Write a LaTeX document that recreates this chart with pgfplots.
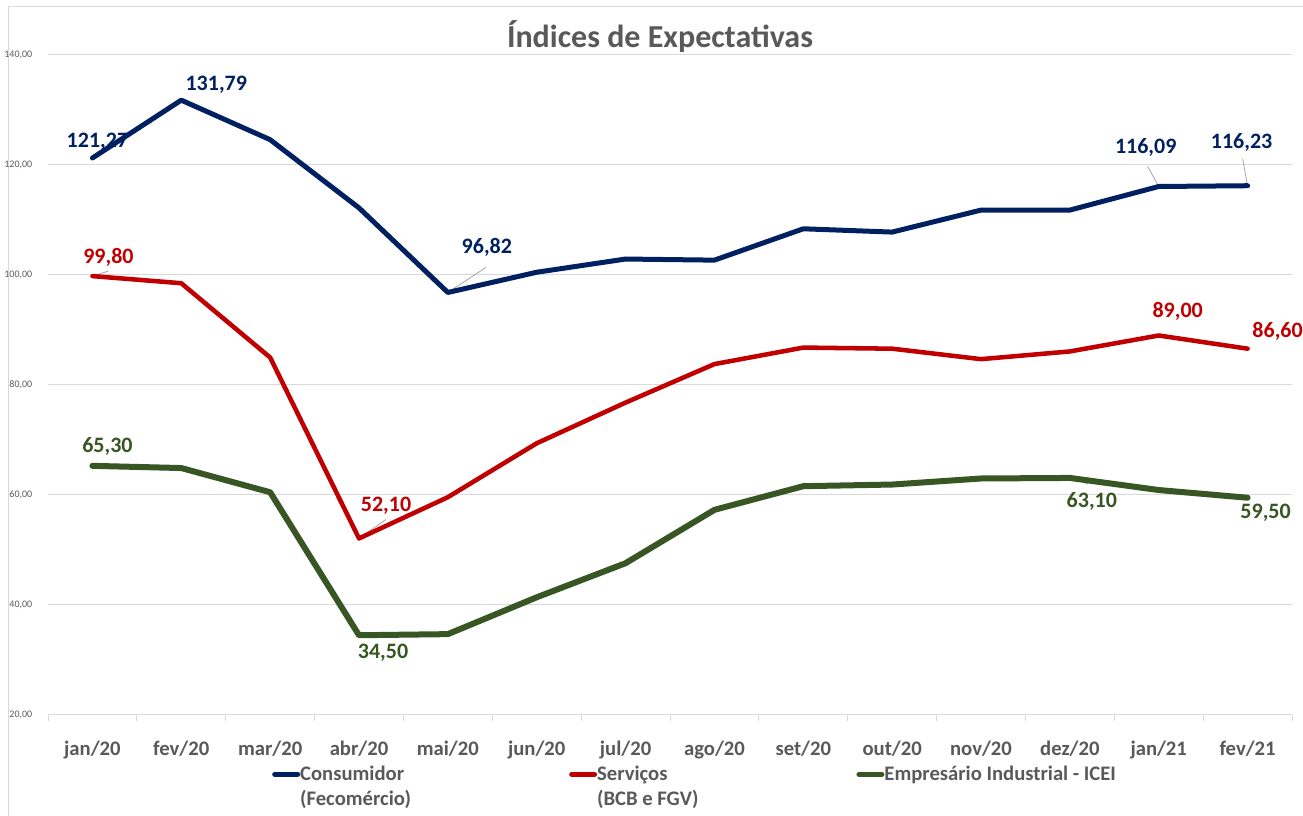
\documentclass[border=0pt]{standalone}
\usepackage{fontspec}
\setmainfont{Carlito}
\usepackage{pgfplots}
\pgfplotsset{compat=1.18}
\definecolor{cblue}{HTML}{002060}
\definecolor{cred}{HTML}{C00000}
\definecolor{cgreen}{HTML}{375623}
\definecolor{txtgray}{HTML}{595959}
\definecolor{gridgray}{HTML}{D9D9D9}
\definecolor{leadgray}{HTML}{A6A6A6}

\pgfplotstableread{
x cons serv emp
0  121.27 99.80 65.30
1  131.79 98.50 64.90
2  124.60 85.00 60.50
3  112.20 52.10 34.50
4  96.82  59.60 34.70
5  100.50 69.40 41.40
6  102.90 76.80 47.60
7  102.70 83.80 57.30
8  108.40 86.80 61.60
9  107.80 86.60 61.90
10 111.80 84.70 63.00
11 111.80 86.10 63.10
12 116.09 89.00 60.90
13 116.23 86.60 59.50
}\datatable

\newcommand\lbl[6]{\node[font=\bfseries\fontsize{16.5}{19}\selectfont, text=#6, inner sep=0pt, xshift=#3*0.75pt, yshift=-#4*0.75pt] at (axis cs:#1,#2) {#5};}
\newcommand\lead[4]{\draw[leadgray, line width=0.6pt] (axis cs:#1,#2) -- ++(#3*0.75pt,#4*0.75pt);}

\begin{document}
\begin{tikzpicture}[x=0.75pt,y=0.75pt]
\path[use as bounding box] (0,0) rectangle (1303,816);
\draw[gridgray, line width=0.75pt] (8,0) -- (8,809) -- (1303,809);
\node[font=\bfseries\fontsize{24}{28}\selectfont, text=txtgray] at (660,779) {Índices de Expectativas};

\begin{axis}[
  at={(36pt,75.75pt)}, anchor=south west,
  scale only axis, width=933pt, height=495pt,
  xmin=-0.5, xmax=13.5, ymin=20, ymax=140,
  xtick={0,...,13},
  xticklabels={jan/20,fev/20,mar/20,abr/20,mai/20,jun/20,jul/20,ago/20,set/20,out/20,nov/20,dez/20,jan/21,fev/21},
  minor xtick={-0.5,0.5,...,13.5},
  ytick={20,40,...,140},
  yticklabel={\pgfmathprintnumber[fixed,fixed zerofill,precision=2,use comma]{\tick}},
  /pgf/number format/assume math mode=true,
  axis x line*=bottom, axis y line*=left,
  x axis line style={draw=gridgray, line width=0.75pt, -},
  y axis line style={draw=none},
  tick align=outside,
  major x tick style={draw=none},
  minor x tick style={draw=gridgray, line width=0.75pt},
  minor tick length=4.5pt,
  ytick style={draw=none},
  ymajorgrids, grid style={gridgray, line width=0.75pt},
  x tick label style={font=\bfseries\fontsize{15.5}{18}\selectfont, text=txtgray, anchor=base, yshift=-26pt},
  y tick label style={font=\fontsize{7.5}{9}\selectfont, text=txtgray, xshift=-4pt},
  clip=false,
  legend columns=3,
  legend cell align=left,
  legend image code/.code={\draw[#1, line width=4pt, line cap=round] (0pt,0pt) -- (17pt,0pt);},
  legend style={draw=none, fill=none, at={(0.18,-0.075)}, anchor=north west, inner sep=0pt,
    font=\bfseries\fontsize{15.5}{19}\selectfont, text=txtgray,
    nodes={inner xsep=0pt, inner ysep=1pt},
    row sep=3.75pt,
    /tikz/every even column/.append style={column sep=118.5pt}},
]
\lead{4}{96.82}{38}{25}
\lead{12}{116.09}{-11}{20}
\lead{13}{116.23}{-5}{27}
\lead{0}{99.80}{16}{5}
\lead{3}{52.10}{27}{19}
\lead{11}{63.10}{18}{-6}

\addplot[cblue, line width=3.75pt, line join=round, line cap=round] table[x=x,y=cons]{\datatable};
\addlegendentry{Consumidor}
\addplot[cred, line width=3.4pt, line join=round, line cap=round] table[x=x,y=serv]{\datatable};
\addlegendentry{Serviços}
\addplot[cgreen, line width=4.5pt, line join=round, line cap=round] table[x=x,y=emp]{\datatable};
\addlegendentry{Empresário Industrial - ICEI}
\addlegendimage{empty legend}\addlegendentry{(Fecomércio)}
\addlegendimage{empty legend}\addlegendentry{(BCB e FGV)}
\addlegendimage{empty legend}\addlegendentry{}

\lbl{0}{121.27}{5}{-16}{121,27}{cblue}
\lbl{1}{131.79}{35}{-15}{131,79}{cblue}
\lbl{4}{96.82}{39}{-45}{96,82}{cblue}
\lbl{12}{116.09}{-13}{-39}{116,09}{cblue}
\lbl{13}{116.23}{-6}{-43}{116,23}{cblue}
\lbl{0}{99.80}{16}{-19}{99,80}{cred}
\lbl{3}{52.10}{27}{-33}{52,10}{cred}
\lbl{12}{89.00}{19}{-24}{89,00}{cred}
\lbl{13}{86.60}{30}{-17}{86,60}{cred}
\lbl{0}{65.30}{15}{-19}{65,30}{cgreen}
\lbl{3}{34.50}{24}{18}{34,50}{cgreen}
\lbl{11}{63.10}{22}{24}{63,10}{cgreen}
\lbl{13}{59.50}{18}{15}{59,50}{cgreen}
\end{axis}
\end{tikzpicture}
\end{document}
